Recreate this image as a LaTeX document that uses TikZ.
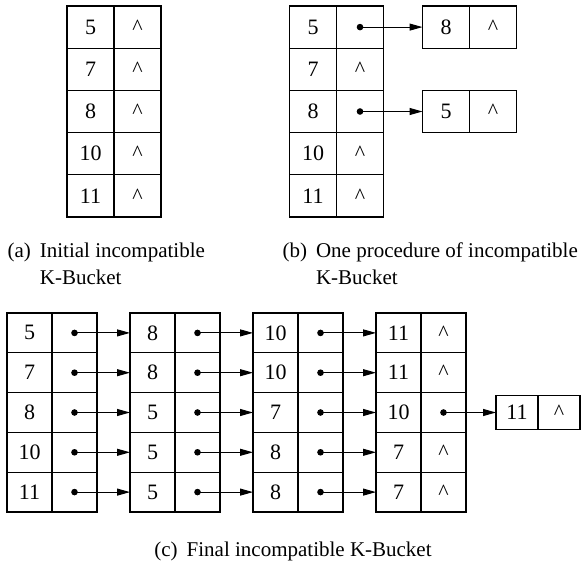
\documentclass[tikz,border=0pt]{standalone}
\usepackage{fontspec}
\setmainfont{Liberation Serif}
\usetikzlibrary{arrows.meta,positioning}
\newcommand{\nil}{\textasciicircum}

\begin{document}
\begin{tikzpicture}[
  x=1pt, y=-1pt,
  font=\fontsize{21}{27}\selectfont,
  line width=1.1pt,
  cell/.style={draw, inner sep=0pt, outer sep=0pt, minimum width=47pt,
    minimum height=42.2pt, font=\fontsize{22}{26}\selectfont},
  ccell/.style={draw, inner sep=0pt, outer sep=0pt, minimum width=45pt,
    minimum height=39.8pt, font=\fontsize{22}{26}\selectfont},
  xcell/.style={draw, inner sep=0pt, outer sep=0pt, minimum width=42pt,
    minimum height=34pt, font=\fontsize{22}{26}\selectfont},
  link/.style={{Circle[length=6.5pt]}-{Triangle[length=13pt,width=7pt]},
    shorten <=-3.25pt, line width=1pt},
  caption/.style={anchor=base west, inner sep=0pt, align=left}
]
\useasboundingbox (0,0) rectangle (581,564);

% (a)
\foreach \v [count=\i] in {5,7,8,10,11} {
  \node[cell] (ak\i) at (90.5,{6+42.2*(\i-0.5)}) {\v};
  \node[cell, right=0pt of ak\i] (ap\i) {\nil};
}
\node[caption] (capa) at (7,258) {(a)\hspace{9pt}\begin{tabular}[t]{@{}l@{}}Initial incompatible\\K-Bucket\end{tabular}};

% (b)
\foreach \v/\p [count=\i] in {5/,7/\nil,8/,10/\nil,11/\nil} {
  \node[cell] (bk\i) at (313,{6+42.2*(\i-0.5)}) {\v};
  \node[cell, right=0pt of bk\i] (bp\i) {\p};
}
\node[cell, right=39pt of bp1] (bx1) {8};
\node[cell, right=0pt of bx1] (bxp1) {\nil};
\node[cell, right=39pt of bp3] (bx3) {5};
\node[cell, right=0pt of bx3] (bxp3) {\nil};
\draw[link] (bp1.center) -- (bx1.west);
\draw[link] (bp3.center) -- (bx3.west);
\node[caption] (capb) at (282,258) {(b)\hspace{9pt}\begin{tabular}[t]{@{}l@{}}One procedure of incompatible\\K-Bucket\end{tabular}};

% (c)
\foreach \v [count=\i] in {5,7,8,10,11} {
  \node[ccell] (c1k\i) at (29.5,{313+39.8*(\i-0.5)}) {\v};
  \node[ccell, right=0pt of c1k\i] (c1p\i) {};
}
\foreach \v [count=\i] in {8,8,5,5,5} {
  \node[ccell] (c2k\i) at (152.5,{313+39.8*(\i-0.5)}) {\v};
  \node[ccell, right=0pt of c2k\i] (c2p\i) {};
}
\foreach \v [count=\i] in {10,10,7,8,8} {
  \node[ccell] (c3k\i) at (275.5,{313+39.8*(\i-0.5)}) {\v};
  \node[ccell, right=0pt of c3k\i] (c3p\i) {};
}
\foreach \v/\p [count=\i] in {11/\nil,11/\nil,10/,7/\nil,7/\nil} {
  \node[ccell] (c4k\i) at (398.5,{313+39.8*(\i-0.5)}) {\v};
  \node[ccell, right=0pt of c4k\i] (c4p\i) {\p};
}
\foreach \i in {1,...,5} {
  \draw[link] (c1p\i.center) -- (c2k\i.west);
  \draw[link] (c2p\i.center) -- (c3k\i.west);
  \draw[link] (c3p\i.center) -- (c4k\i.west);
}
\node[xcell, right=30pt of c4p3] (c5k) {11};
\node[xcell, right=0pt of c5k] (c5p) {\nil};
\draw[link] (c4p3.center) -- (c5k.west);
\node[anchor=base, inner sep=0pt] (capc) at (293,556) {(c)\hspace{9pt}Final incompatible K-Bucket};

\end{tikzpicture}
\end{document}
